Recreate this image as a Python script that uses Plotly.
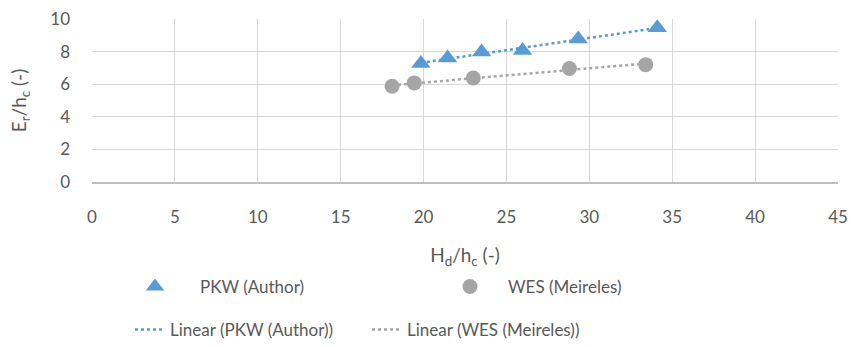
import numpy as np
import plotly.graph_objects as go

pkw_x = [19.84, 21.45, 23.5, 25.97, 29.33, 34.1]
pkw_y = [7.27, 7.6, 7.98, 8.06, 8.78, 9.46]
wes_x = [18.1, 19.44, 23.0, 28.8, 33.4]
wes_y = [5.87, 6.08, 6.38, 6.96, 7.2]

BLUE = "#5B9BD5"
GRAY = "#A5A5A5"
TXT = "#595959"
FONT = "Lato"
W, H = 851, 347

def fit(x, y):
    m, c = np.polyfit(x, y, 1)
    xs = np.array([min(x), max(x)])
    return xs, m * xs + c

fig = go.Figure()
fx, fy = fit(pkw_x, pkw_y)
fig.add_trace(go.Scatter(x=fx, y=fy, mode="lines", name="Linear (PKW (Author))",
                         line=dict(color=BLUE, width=2.5, dash="dot"), legend="legend4"))
gx, gy = fit(wes_x, wes_y)
fig.add_trace(go.Scatter(x=gx, y=gy, mode="lines", name="Linear (WES (Meireles))",
                         line=dict(color=GRAY, width=2.5, dash="dot"), legend="legend5"))
fig.add_trace(go.Scatter(x=pkw_x, y=pkw_y, mode="markers", name="PKW (Author)",
                         marker=dict(symbol="triangle-up", size=17, color=BLUE), legend="legend2"))
fig.add_trace(go.Scatter(x=wes_x, y=wes_y, mode="markers", name="WES (Meireles)",
                         marker=dict(symbol="circle", size=15, color=GRAY), legend="legend3"))

def leg(px, py, iw=30):
    return dict(xref="container", yref="container", x=px / W, y=1 - py / H,
                xanchor="left", yanchor="middle", orientation="h", itemwidth=iw,
                font=dict(size=17, color=TXT), bgcolor="rgba(0,0,0,0)", visible=True)

fig.update_layout(
    width=W, height=H,
    margin=dict(l=92, r=13, t=19, b=165, autoexpand=False),
    paper_bgcolor="white", plot_bgcolor="white",
    font=dict(family=FONT, color=TXT, size=17),
    xaxis=dict(range=[0, 45], dtick=5, tick0=0, showgrid=True, gridcolor="#D9D9D9", gridwidth=1,
               zeroline=False, showline=True, linecolor="#BFBFBF", linewidth=1.5,
               ticks="", ticklabelstandoff=19, tickfont=dict(size=17, color=TXT),
               title=dict(text="H<sub>d</sub>/h<sub>c</sub> (-)", font=dict(size=19, color=TXT), standoff=23)),
    yaxis=dict(range=[0, 10], dtick=2, tick0=0, showgrid=True, gridcolor="#D9D9D9", gridwidth=1,
               zeroline=False, showline=False, ticks="", ticklabelstandoff=21,
               tickfont=dict(size=17, color=TXT),
               title=dict(text="E<sub>r</sub>/h<sub>c</sub> (-)", font=dict(size=19, color=TXT), standoff=18)),
    showlegend=True,
    legend2=leg(110, 287, 80),
    legend3=leg(432, 287, 66),
    legend4=leg(130, 330),
    legend5=leg(367, 330),
)
fig.write_html("out.html")
